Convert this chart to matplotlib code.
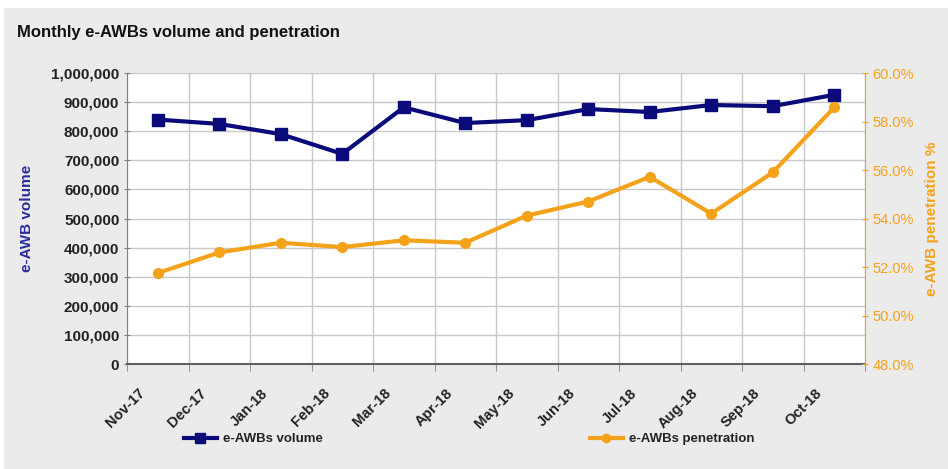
import matplotlib.pyplot as plt
from matplotlib.lines import Line2D
from matplotlib.patches import Rectangle
from matplotlib.ticker import FuncFormatter, MultipleLocator
from matplotlib.transforms import ScaledTranslation

plt.rcParams['font.family'] = ['Liberation Sans', 'DejaVu Sans']

# data
months = ['Nov-17', 'Dec-17', 'Jan-18', 'Feb-18', 'Mar-18', 'Apr-18',
          'May-18', 'Jun-18', 'Jul-18', 'Aug-18', 'Sep-18', 'Oct-18']
volume = [840000, 825000, 790000, 722000, 882000, 828000,
          838000, 876000, 866000, 890000, 886000, 925000]
penetration = [51.75, 52.6, 53.0, 52.82, 53.1, 53.0,
               54.12, 54.7, 55.72, 54.2, 55.9, 58.58]

blue = '#0a0a7a'
orange = '#f5a21b'
bg = '#ebebeb'

fig = plt.figure(figsize=(9.48, 4.69), dpi=100)
fig.patch.set_facecolor('white')
fig.patches.append(Rectangle((4 / 948, 0), 1, 1 - 8 / 469, transform=fig.transFigure,
                             facecolor=bg, edgecolor='none', zorder=-10))

ax = fig.add_axes([127 / 948, 1 - 364 / 469, (865 - 127) / 948, (364 - 73) / 469])
ax.set_facecolor('white')
ax2 = ax.twinx()

x = list(range(len(months)))
ax.plot(x, volume, color=blue, lw=3, marker='s', ms=8, zorder=5)
ax2.plot(x, penetration, color=orange, lw=3, marker='o', ms=7, zorder=5)

# axes ranges and ticks
ax.set_xlim(-0.5, len(months) - 0.5)
ax.set_ylim(0, 1000000)
ax.yaxis.set_major_locator(MultipleLocator(100000))
ax.yaxis.set_major_formatter(FuncFormatter(lambda v, p: f'{int(v):,}'))
ax2.set_ylim(48, 60)
ax2.yaxis.set_major_locator(MultipleLocator(2))
ax2.yaxis.set_major_formatter(FuncFormatter(lambda v, p: f'{v:.1f}%'))

# month labels drawn as text so they can sit slightly left of the category centre
ax.set_xticks([])
ax.set_xticks([i - 0.5 for i in range(len(months) + 1)], minor=True)
ax.tick_params(axis='x', which='minor', length=5, color='#808080', direction='out',
               labelbottom=False)
lab_tr = ax.get_xaxis_transform() + ScaledTranslation(-15 / 100, -27 / 100,
                                                      fig.dpi_scale_trans)
for i, m in enumerate(months):
    ax.text(i, 0, m, transform=lab_tr, rotation=45, rotation_mode='anchor',
            ha='right', va='center', fontsize=10.5, fontweight='bold',
            color='#222222', clip_on=False)

ax.tick_params(axis='y', length=4, color='#808080', direction='inout',
               labelsize=11, labelcolor='#222222')
for t in ax.get_yticklabels():
    t.set_fontweight('bold')
ax2.tick_params(axis='y', length=4, color=orange, direction='inout',
                labelsize=10.5, labelcolor=orange)

# grid
ax.grid(True, which='minor', axis='x', color='#c8c8c8', lw=1)
ax.grid(True, which='major', axis='y', color='#c8c8c8', lw=1)
ax.set_axisbelow(True)

ax.spines['top'].set_visible(False)
ax2.spines['top'].set_visible(False)
ax.spines['left'].set_color('#808080')
ax.spines['bottom'].set_color('#606060')
ax.spines['bottom'].set_linewidth(1.5)
ax2.spines['left'].set_visible(False)
ax2.spines['bottom'].set_visible(False)
ax2.spines['right'].set_color(orange)
ax.spines['right'].set_visible(False)

ax.set_ylabel('e-AWB volume', color='#2a2aa0', fontsize=11, fontweight='bold',
              labelpad=12)
ax2.set_ylabel('e-AWB penetration %', color=orange, fontsize=11, fontweight='bold',
               labelpad=8)

fig.text(17 / 948, 1 - 33 / 469, 'Monthly e-AWBs volume and penetration',
         fontsize=12, fontweight='bold', color='#111111', va='center')

# legends
h1 = Line2D([], [], color=blue, lw=3, marker='s', ms=7)
h2 = Line2D([], [], color=orange, lw=3, marker='o', ms=6)
leg1 = fig.legend([h1], ['e-AWBs volume'], loc='center left',
                  bbox_to_anchor=(172 / 948, 1 - 439 / 469), frameon=False,
                  handlelength=2.5, handletextpad=0.5, prop={'size': 9.5, 'weight': 'bold'})
leg2 = fig.legend([h2], ['e-AWBs penetration'], loc='center left',
                  bbox_to_anchor=(578 / 948, 1 - 439 / 469), frameon=False,
                  handlelength=2.5, handletextpad=0.5, prop={'size': 9.5, 'weight': 'bold'})
for t in leg1.get_texts() + leg2.get_texts():
    t.set_color('#222222')

fig.savefig('out.png', dpi=100, facecolor=fig.get_facecolor())
